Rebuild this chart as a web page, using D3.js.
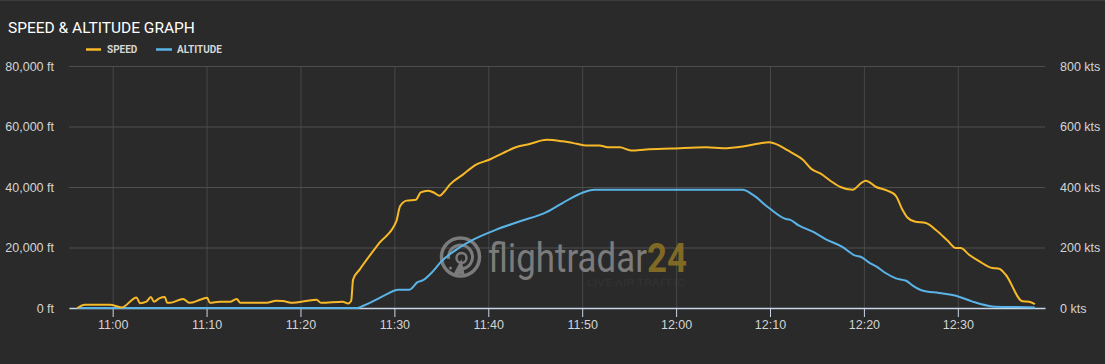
<!DOCTYPE html>
<html>
<head>
<meta charset="utf-8">
<script src="https://cdn.jsdelivr.net/npm/d3@7"></script>
<style>
  html, body { margin: 0; padding: 0; background: #2a2a2a; }
  svg { display: block; font-family: Roboto, "Noto Sans", sans-serif; }
</style>
</head>
<body>
<div id="chart"></div>
<script>
// speed samples (time, kts)
var speedTimes = ["10:56:14","10:57:03","10:59:42","11:00:58","11:02:33","11:02:54","11:03:36","11:04:04","11:04:24","11:04:58",
  "11:05:34","11:05:48","11:06:06","11:07:30","11:08:12","11:09:18","11:10:04","11:10:21","11:11:24","11:12:30",
  "11:13:12","11:13:36","11:16:24","11:17:24","11:18:06","11:19:12","11:20:36","11:21:42","11:22:12","11:24:30",
  "11:25:04","11:25:24","11:25:36","11:26:18","11:28:24","11:30:12","11:30:36","11:31:18","11:32:18","11:32:48",
  "11:33:36","11:34:18","11:34:48","11:35:21","11:35:54","11:37:18","11:38:42","11:40:06","11:41:33","11:43:00",
  "11:44:24","11:46:12","11:47:54","11:49:24","11:50:24","11:51:48","11:52:54","11:54:00","11:55:12","11:56:48",
  "11:59:36","12:03:12","12:05:00","12:07:06","12:08:30","12:09:54","12:11:00","12:11:54","12:12:24","12:13:30",
  "12:14:24","12:15:24","12:16:30","12:17:30","12:18:48","12:19:42","12:20:12","12:21:18","12:22:30","12:23:24",
  "12:24:06","12:24:36","12:25:24","12:26:36","12:27:42","12:28:54","12:29:48","12:30:18","12:31:12","12:32:18",
  "12:33:42","12:34:24","12:35:06","12:36:54","12:37:36","12:38:12"];
var speedKts = [0,11,11,2,35,16,21,36,21,32,
  36,17,17,30,17,27,34,17,21,21,
  30,17,17,24,23,17,23,27,17,21,
  15,24,94,127,215,286,336,355,358,382,
  388,380,371,386,408,441,474,490,512,532,
  542,556,551,543,537,537,531,531,521,524,
  527,531,528,534,542,548,537,521,512,490,
  460,444,419,400,391,413,421,400,388,371,
  325,300,286,281,257,223,198,198,176,154,
  132,130,110,22,21,13];

// altitude samples (time, ft)
var altTimes = ["10:56:14","11:26:00","11:26:42","11:27:42","11:29:06","11:30:24","11:31:36","11:32:30","11:33:00","11:34:06",
  "11:35:00","11:36:36","11:38:24","11:40:51","11:43:18","11:46:12","11:47:54","11:50:06","11:51:18","12:07:06",
  "12:08:09","12:09:54","12:11:42","12:12:06","12:13:06","12:14:30","12:15:54","12:17:42","12:19:06","12:19:42",
  "12:20:36","12:21:18","12:22:18","12:23:24","12:24:30","12:25:12","12:26:12","12:28:00","12:29:48","12:31:30",
  "12:33:42","12:35:48","12:38:12"];
var altFt = [0,0,760,2180,4400,6050,6050,8600,9100,12100,
  15400,19300,22600,25900,28600,31700,34700,38200,39100,39100,
  37450,33060,29420,29200,27200,25300,22800,20200,17300,16860,
  14900,13750,11570,9800,9000,7400,5800,4960,4070,2180,
  530,330,200];

var altTicks = [0, 20000, 40000, 60000, 80000];
var speedTicks = [0, 200, 400, 600, 800];
var timeTicks = ["11:00","11:10","11:20","11:30","11:40","11:50","12:00","12:10","12:20","12:30"];

var W = 1105, H = 364;
var margin = { top: 66, bottom: 56, left: 69, right: 60 };

var parseTime = d3.timeParse("%H:%M:%S");
var parseTick = d3.timeParse("%H:%M");

var speedData = speedTimes.map(function(t, i) { return { date: parseTime(t), v: speedKts[i] }; });
var altData = altTimes.map(function(t, i) { return { date: parseTime(t), v: altFt[i] }; });

var svg = d3.select("#chart").append("svg")
  .attr("width", W)
  .attr("height", H);

svg.append("rect").attr("width", W).attr("height", H).attr("fill", "#2a2a2a");
svg.append("line").attr("x1", 0).attr("x2", W).attr("y1", 0.5).attr("y2", 0.5)
  .attr("stroke", "#3d3d3d").attr("stroke-width", 1);

var x = d3.scaleTime()
  .domain([parseTime("10:55:21"), parseTime("12:39:17")])
  .range([margin.left, W - margin.right]);
var yAlt = d3.scaleLinear().domain([0, 80000]).range([H - margin.bottom, margin.top]);
var ySpeed = d3.scaleLinear().domain([0, 800]).range([H - margin.bottom, margin.top]);

var plotH = H - margin.bottom - margin.top;
var plotW = W - margin.right - margin.left;

// title & legend
svg.append("text").attr("x", 8).attr("y", 33)
  .text("SPEED & ALTITUDE GRAPH")
  .style("font-size", "15.5px").attr("fill", "#ffffff");

svg.append("line").attr("x1", 86).attr("x2", 101).attr("y1", 49.5).attr("y2", 49.5)
  .style("stroke", "#f7b928").style("stroke-width", "2.5px");
svg.append("text").attr("x", 107).attr("y", 53).text("SPEED")
  .style("font-size", "10px").style("font-weight", "bold").attr("fill", "#d6d6d6");
svg.append("line").attr("x1", 156).attr("x2", 172).attr("y1", 49.5).attr("y2", 49.5)
  .style("stroke", "#5ab4e8").style("stroke-width", "2.5px");
svg.append("text").attr("x", 177).attr("y", 53).text("ALTITUDE")
  .style("font-size", "10px").style("font-weight", "bold").attr("fill", "#d6d6d6");

// grid: vertical
var tickDates = timeTicks.map(parseTick);
svg.append("g")
  .attr("class", "xgrid")
  .attr("transform", "translate(0," + (H - margin.bottom) + ")")
  .call(d3.axisBottom(x).tickValues(tickDates).tickSize(-plotH).tickFormat(""))
  .call(function(g) { g.select(".domain").remove(); })
  .call(function(g) { g.selectAll("line").attr("stroke", "#474747"); });

// left axis + horizontal grid
svg.append("g")
  .attr("transform", "translate(" + margin.left + ",0)")
  .call(d3.axisLeft(yAlt).tickValues(altTicks).tickSize(-plotW).tickPadding(15)
    .tickFormat(function(d) { return d3.format(",")(d) + " ft"; }))
  .call(function(g) { g.select(".domain").remove(); })
  .call(function(g) { g.selectAll("line").attr("stroke", "#4e4e4e"); })
  .call(function(g) { g.selectAll("text").attr("fill", "#d4d4d4").style("font-size", "12.5px"); });

// right axis
svg.append("g")
  .attr("transform", "translate(" + (W - margin.right) + ",0)")
  .call(d3.axisRight(ySpeed).tickValues(speedTicks).tickSize(0).tickPadding(15)
    .tickFormat(function(d) { return d + " kts"; }))
  .call(function(g) { g.select(".domain").remove(); })
  .call(function(g) { g.selectAll("text").attr("fill", "#d4d4d4").style("font-size", "12.5px"); });

// watermark
var wm = svg.append("g").attr("opacity", 0.85);
var cx = 460.5, cy = 257;
wm.append("circle").attr("cx", cx).attr("cy", cy).attr("r", 19)
  .attr("fill", "none").attr("stroke", "#8a8a8a").attr("stroke-width", 3.5);
wm.append("path")
  .attr("transform", "translate(" + cx + "," + cy + ")")
  .attr("d", d3.arc().innerRadius(10.5).outerRadius(13.5).startAngle(-Math.PI * 0.55).endAngle(Math.PI * 0.95)())
  .attr("fill", "#8a8a8a");
wm.append("circle").attr("cx", cx + 1).attr("cy", cy + 1).attr("r", 5)
  .attr("fill", "none").attr("stroke", "#8a8a8a").attr("stroke-width", 2.5);
wm.append("path")
  .attr("d", d3.line()([[cx + 1, cy + 2], [cx + 4, cy + 17], [cx - 7, cy + 17]]) + "Z")
  .attr("fill", "#8a8a8a");
wm.append("circle").attr("cx", cx + 10).attr("cy", cy - 16).attr("r", 1.5).attr("fill", "#8a8a8a");
wm.append("circle").attr("cx", cx - 10).attr("cy", cy + 11).attr("r", 1.5).attr("fill", "#8a8a8a");
var brand = wm.append("text").attr("x", 488).attr("y", 271.5)
  .attr("textLength", 199).attr("lengthAdjust", "spacingAndGlyphs")
  .style("font-size", "40px");
brand.append("tspan").text("flightradar").attr("fill", "#8a8a8a");
brand.append("tspan").text("24").attr("fill", "#8f7424").style("font-weight", "bold");
wm.append("text").attr("x", 587).attr("y", 286).text("LIVE AIR TRAFFIC")
  .attr("textLength", 98).attr("lengthAdjust", "spacingAndGlyphs")
  .style("font-size", "9px").attr("fill", "#363636");

// bottom axis
svg.append("g")
  .attr("transform", "translate(0," + (H - margin.bottom) + ")")
  .call(d3.axisBottom(x).tickValues(tickDates).tickSize(9).tickSizeOuter(0).tickPadding(3)
    .tickFormat(d3.timeFormat("%H:%M")))
  .call(function(g) { g.select(".domain").attr("stroke", "#c8d6e6").attr("stroke-width", 1.5); })
  .call(function(g) { g.selectAll("line").attr("stroke", "#c8d6e6"); })
  .call(function(g) { g.selectAll("text").attr("fill", "#d4d4d4").style("font-size", "12.5px"); });

// lines
svg.append("path")
  .datum(altData)
  .attr("d", d3.line().curve(d3.curveMonotoneX)
    .x(function(d) { return x(d.date); })
    .y(function(d) { return yAlt(d.v); }))
  .attr("fill", "none")
  .attr("stroke", "#5ab4e8")
  .attr("stroke-width", 2);

svg.append("path")
  .datum(speedData)
  .attr("d", d3.line().curve(d3.curveMonotoneX)
    .x(function(d) { return x(d.date); })
    .y(function(d) { return ySpeed(d.v); }))
  .attr("fill", "none")
  .attr("stroke", "#f7b928")
  .attr("stroke-width", 2);
</script>
</body>
</html>
